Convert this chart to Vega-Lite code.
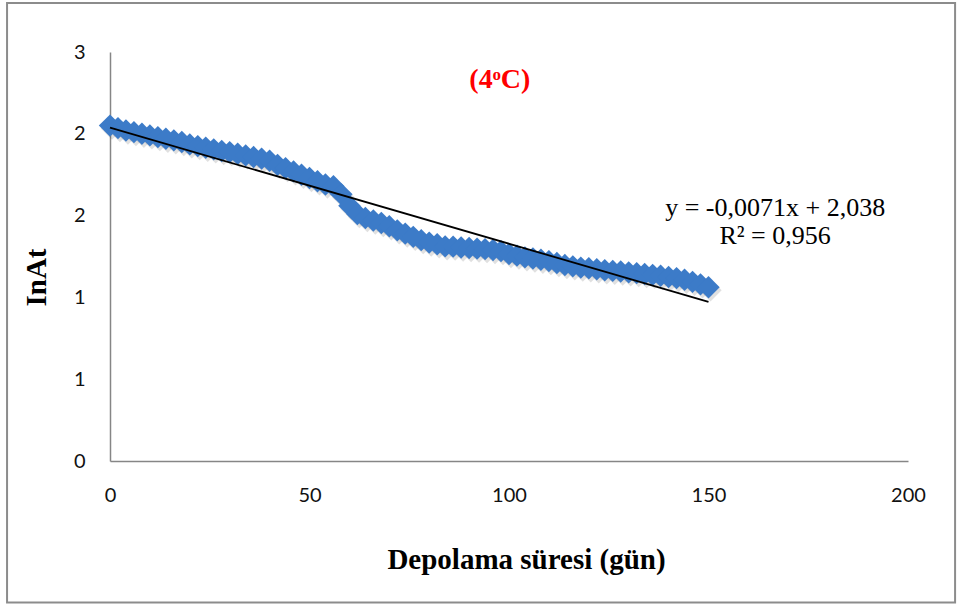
{
  "$schema": "https://vega.github.io/schema/vega-lite/v6.json",
  "width": 798,
  "height": 409,
  "autosize": {"type": "none"},
  "padding": {"left": 110, "top": 52, "right": 52, "bottom": 145},
  "background": "white",
  "config": {"view": {"stroke": null}, "font": "Lato"},
  "datasets": {
    "measurements": [
      {"day": 0, "lnAt": 2.05}, {"day": 2, "lnAt": 2.035}, {"day": 4, "lnAt": 2.02}, {"day": 6, "lnAt": 2.01},
      {"day": 8, "lnAt": 2.0}, {"day": 10, "lnAt": 1.99}, {"day": 12, "lnAt": 1.98}, {"day": 14, "lnAt": 1.97},
      {"day": 16, "lnAt": 1.96}, {"day": 18, "lnAt": 1.95}, {"day": 20, "lnAt": 1.935}, {"day": 22, "lnAt": 1.925},
      {"day": 24, "lnAt": 1.915}, {"day": 26, "lnAt": 1.905}, {"day": 28, "lnAt": 1.895}, {"day": 30, "lnAt": 1.888},
      {"day": 32, "lnAt": 1.878}, {"day": 34, "lnAt": 1.868}, {"day": 36, "lnAt": 1.858}, {"day": 38, "lnAt": 1.848},
      {"day": 40, "lnAt": 1.835}, {"day": 42, "lnAt": 1.81}, {"day": 44, "lnAt": 1.79}, {"day": 46, "lnAt": 1.77},
      {"day": 48, "lnAt": 1.75}, {"day": 50, "lnAt": 1.73}, {"day": 52, "lnAt": 1.71}, {"day": 54, "lnAt": 1.69},
      {"day": 56, "lnAt": 1.68}, {"day": 58, "lnAt": 1.63}, {"day": 60, "lnAt": 1.56}, {"day": 62, "lnAt": 1.51},
      {"day": 64, "lnAt": 1.485}, {"day": 66, "lnAt": 1.47}, {"day": 68, "lnAt": 1.455}, {"day": 70, "lnAt": 1.435},
      {"day": 72, "lnAt": 1.41}, {"day": 74, "lnAt": 1.39}, {"day": 76, "lnAt": 1.37}, {"day": 78, "lnAt": 1.35},
      {"day": 80, "lnAt": 1.335}, {"day": 82, "lnAt": 1.325}, {"day": 84, "lnAt": 1.312}, {"day": 86, "lnAt": 1.31},
      {"day": 88, "lnAt": 1.305}, {"day": 90, "lnAt": 1.302}, {"day": 92, "lnAt": 1.298}, {"day": 94, "lnAt": 1.295},
      {"day": 96, "lnAt": 1.29}, {"day": 98, "lnAt": 1.283}, {"day": 100, "lnAt": 1.265}, {"day": 102, "lnAt": 1.255},
      {"day": 104, "lnAt": 1.245}, {"day": 106, "lnAt": 1.238}, {"day": 108, "lnAt": 1.23}, {"day": 110, "lnAt": 1.222},
      {"day": 112, "lnAt": 1.21}, {"day": 114, "lnAt": 1.198}, {"day": 116, "lnAt": 1.19}, {"day": 118, "lnAt": 1.182},
      {"day": 120, "lnAt": 1.178}, {"day": 122, "lnAt": 1.172}, {"day": 124, "lnAt": 1.166}, {"day": 126, "lnAt": 1.162},
      {"day": 128, "lnAt": 1.158}, {"day": 130, "lnAt": 1.153}, {"day": 132, "lnAt": 1.148}, {"day": 134, "lnAt": 1.143},
      {"day": 136, "lnAt": 1.138}, {"day": 138, "lnAt": 1.132}, {"day": 140, "lnAt": 1.125}, {"day": 142, "lnAt": 1.118},
      {"day": 144, "lnAt": 1.108}, {"day": 146, "lnAt": 1.095}, {"day": 148, "lnAt": 1.08}, {"day": 150, "lnAt": 1.062}
    ],
    "trend": [
      {"day": 0, "lnAt": 2.038},
      {"day": 150, "lnAt": 0.973}
    ],
    "single": [{}]
  },
  "layer": [
    {
      "data": {"name": "single"},
      "mark": {"type": "rect", "fill": "transparent", "stroke": "#8c8c8c", "strokeWidth": 2, "clip": false},
      "encoding": {
        "x": {"datum": -25.8, "type": "quantitative"},
        "x2": {"datum": 211.8},
        "y": {"datum": 2.8, "type": "quantitative"},
        "y2": {"datum": -0.865}
      }
    },
    {
      "data": {"name": "measurements"},
      "mark": {"type": "point", "shape": "diamond", "filled": true, "size": 500, "color": "#000000", "opacity": 0.12, "xOffset": 2, "yOffset": 3},
      "encoding": {
        "x": {"field": "day", "type": "quantitative"},
        "y": {"field": "lnAt", "type": "quantitative"}
      }
    },
    {
      "data": {"name": "measurements"},
      "mark": {"type": "point", "shape": "diamond", "filled": true, "size": 500, "color": "#3c7bc8", "opacity": 1},
      "encoding": {
        "x": {
          "field": "day",
          "type": "quantitative",
          "scale": {"domain": [0, 200], "nice": false, "zero": true},
          "axis": {
            "values": [0, 50, 100, 150, 200],
            "title": "Depolama süresi (gün)",
            "grid": false,
            "ticks": false,
            "domainColor": "#868686",
            "domainWidth": 1.5,
            "labelFont": "Lato",
            "labelFontSize": 20,
            "labelColor": "#111111",
            "labelPadding": 24,
            "labelFlush": false,
            "titleFont": "Liberation Serif",
            "titleFontSize": 29,
            "titleFontWeight": "bold",
            "titleColor": "#000000",
            "titlePadding": 40,
            "titleX": 416
          }
        },
        "y": {
          "field": "lnAt",
          "type": "quantitative",
          "scale": {"domain": [0, 2.5], "nice": false, "zero": true},
          "axis": {
            "values": [0, 0.5, 1, 1.5, 2, 2.5],
            "labelExpr": "'' + round(datum.value)",
            "title": "InAt",
            "grid": false,
            "ticks": false,
            "domainColor": "#868686",
            "domainWidth": 1.5,
            "labelFont": "Lato",
            "labelFontSize": 20,
            "labelColor": "#111111",
            "labelPadding": 25,
            "labelFlush": false,
            "titleFont": "Liberation Serif",
            "titleFontSize": 29,
            "titleFontWeight": "bold",
            "titleColor": "#000000",
            "titlePadding": 22,
            "titleY": 225
          }
        }
      }
    },
    {
      "data": {"name": "trend"},
      "mark": {"type": "line", "color": "#000000", "strokeWidth": 1.8},
      "encoding": {
        "x": {"field": "day", "type": "quantitative"},
        "y": {"field": "lnAt", "type": "quantitative"}
      }
    },
    {
      "data": {"name": "single"},
      "mark": {"type": "text", "font": "Liberation Serif", "fontSize": 28, "fontWeight": "bold", "align": "center", "baseline": "alphabetic", "color": "#ff0000"},
      "encoding": {
        "x": {"datum": 97.7, "type": "quantitative"},
        "y": {"datum": 2.28, "type": "quantitative"},
        "text": {"value": "(4ᵒC)"}
      }
    },
    {
      "data": {"name": "single"},
      "mark": {"type": "text", "font": "Liberation Serif", "fontSize": 26, "align": "center", "baseline": "alphabetic", "lineHeight": 28, "color": "#000000"},
      "encoding": {
        "x": {"datum": 166.7, "type": "quantitative"},
        "y": {"datum": 1.497, "type": "quantitative"},
        "text": {"value": ["y = -0,0071x + 2,038", "R² = 0,956"]}
      }
    }
  ]
}
